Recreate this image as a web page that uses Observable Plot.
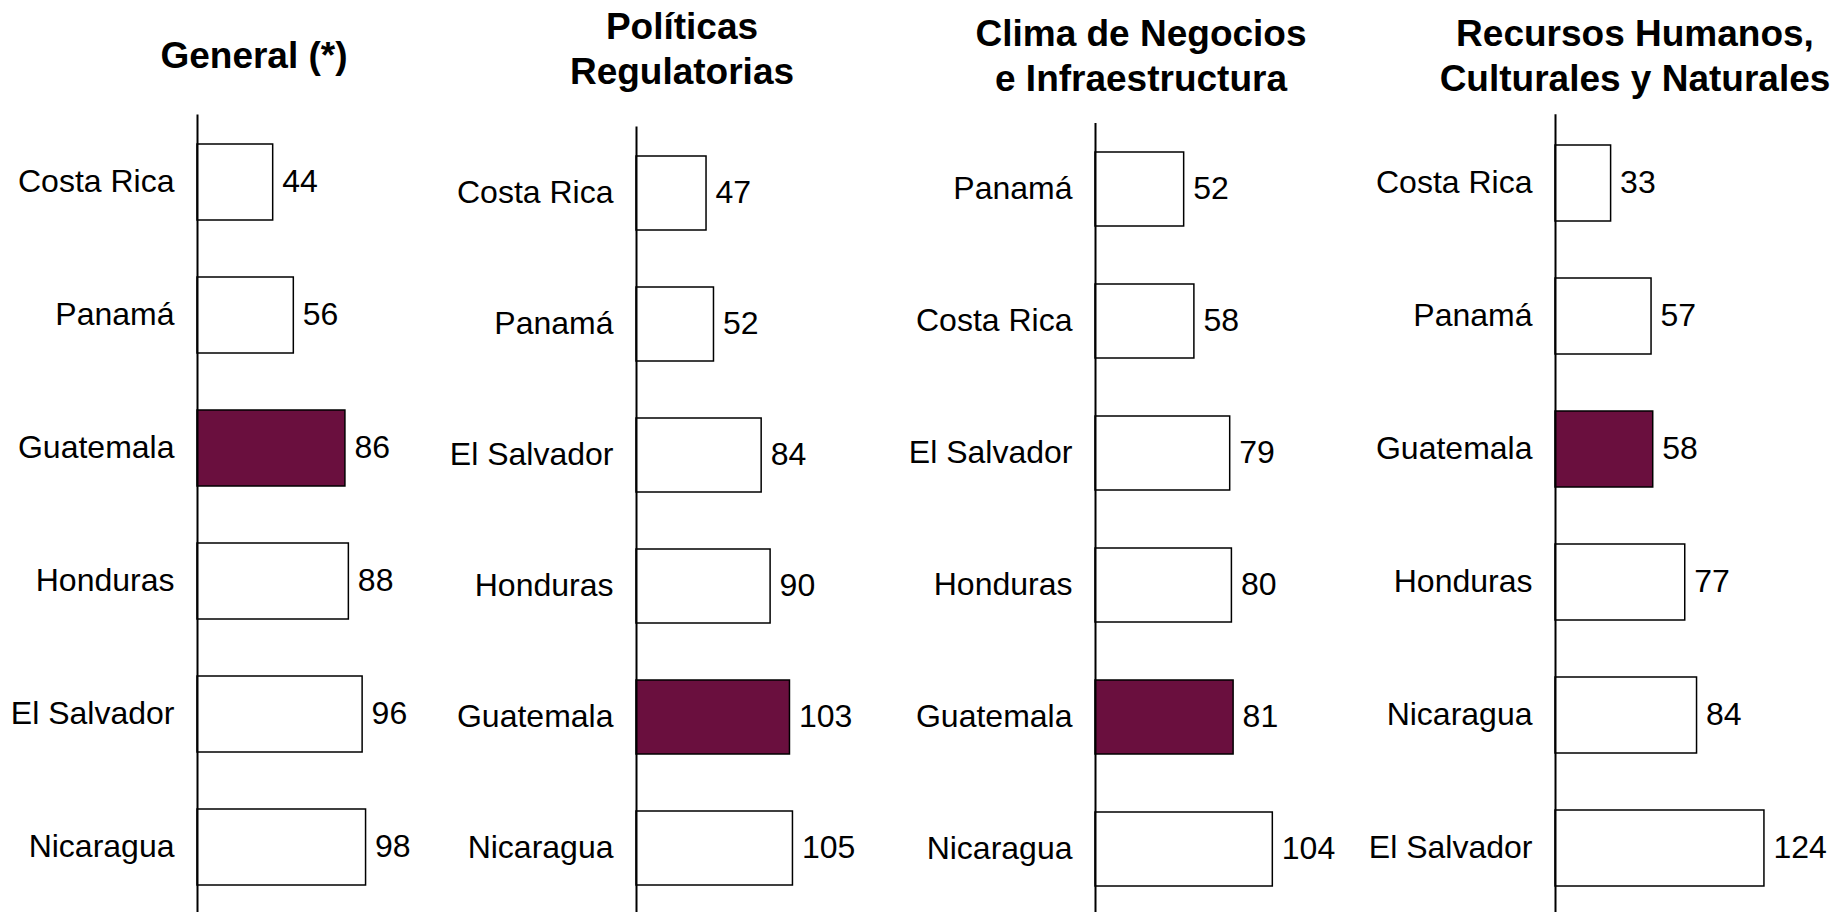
<!DOCTYPE html>
<html>
<head>
<meta charset="utf-8">
<script src="https://cdn.jsdelivr.net/npm/d3@7"></script>
<script src="https://cdn.jsdelivr.net/npm/@observablehq/plot@0.6"></script>
<style>
  html, body { margin: 0; padding: 0; background: #fff; overflow: hidden; }
  #root { position: relative; width: 1837px; height: 912px; font-family: "Liberation Sans", Arial, sans-serif; }
  .panel { position: absolute; top: 0; }
  .title { position: absolute; width: 600px; text-align: center; font-weight: bold; font-size: 37px; line-height: 45px; color: #000; }
</style>
</head>
<body>
<div id="root"></div>
<script>
// ---- Data ----
const generalCountries = ["Costa Rica", "Panamá", "Guatemala", "Honduras", "El Salvador", "Nicaragua"];
const generalValues = [44, 56, 86, 88, 96, 98];

const politicasCountries = ["Costa Rica", "Panamá", "El Salvador", "Honduras", "Guatemala", "Nicaragua"];
const politicasValues = [47, 52, 84, 90, 103, 105];

const climaCountries = ["Panamá", "Costa Rica", "El Salvador", "Honduras", "Guatemala", "Nicaragua"];
const climaValues = [52, 58, 79, 80, 81, 104];

const recursosCountries = ["Costa Rica", "Panamá", "Guatemala", "Honduras", "Nicaragua", "El Salvador"];
const recursosValues = [33, 57, 58, 77, 84, 124];

const titles = [
  ["General (*)"],
  ["Políticas", "Regulatorias"],
  ["Clima de Negocios", "e Infraestructura"],
  ["Recursos Humanos,", "Culturales y Naturales"]
];

const highlight = "Guatemala";
const highlightColor = "#6a0f3e";

// ---- Layout (per panel) ----
const panels = [
  {countries: generalCountries, values: generalValues, left: 0, width: 440, axisX: 197, k: 1.72, top: 114.5, step: 133.2, barH: 76,
   titleCenter: 254, titleTop: 32.7},
  {countries: politicasCountries, values: politicasValues, left: 440, width: 460, axisX: 636, k: 1.49, top: 126.4, step: 131.2, barH: 74,
   titleCenter: 682, titleTop: 3.7},
  {countries: climaCountries, values: climaValues, left: 900, width: 460, axisX: 1095, k: 1.705, top: 123, step: 132.2, barH: 74.5,
   titleCenter: 1141, titleTop: 10.7},
  {countries: recursosCountries, values: recursosValues, left: 1360, width: 477, axisX: 1555, k: 1.685, top: 114.2, step: 133.6, barH: 76,
   titleCenter: 1635, titleTop: 10.7}
];

const root = document.getElementById("root");
const H = 912;
const FS = 32;

panels.forEach((p, i) => {
  const data = p.countries.map((c, j) => ({country: c, value: p.values[j]}));
  const ml = p.axisX - p.left;
  const maxDomain = (p.width - ml) / p.k;
  const pad = 1 - p.barH / p.step;

  const chart = Plot.plot({
    width: p.width,
    height: H,
    marginLeft: ml,
    marginRight: 0,
    marginTop: p.top,
    marginBottom: 0,
    style: {fontFamily: '"Liberation Sans", Arial, sans-serif', fontSize: FS + "px", color: "#000", background: "transparent", overflow: "visible"},
    x: {domain: [0, maxDomain], axis: null},
    y: {domain: p.countries, range: [p.top, p.top + 6 * p.step], paddingInner: pad, paddingOuter: pad / 2, label: null},
    marks: [
      Plot.barX(data, {
        y: "country", x: "value",
        fill: d => d.country === highlight ? highlightColor : "white",
        stroke: "black", strokeWidth: 1.5
      }),
      Plot.ruleX([0], {stroke: "black", strokeWidth: 2}),
      Plot.axisY({tickSize: 0, tickPadding: 23, fontSize: FS, dy: -1, label: null}),
      Plot.text(data, {
        y: "country", x: "value", text: d => String(d.value),
        dx: 9, dy: -1, textAnchor: "start", fontSize: FS, fill: "black"
      })
    ]
  });
  chart.classList.add("panel");
  chart.style.left = p.left + "px";
  root.appendChild(chart);

  const t = document.createElement("div");
  t.className = "title";
  t.style.left = (p.titleCenter - 300) + "px";
  t.style.top = p.titleTop + "px";
  t.innerHTML = titles[i].join("<br>");
  root.appendChild(t);
});
</script>
</body>
</html>
